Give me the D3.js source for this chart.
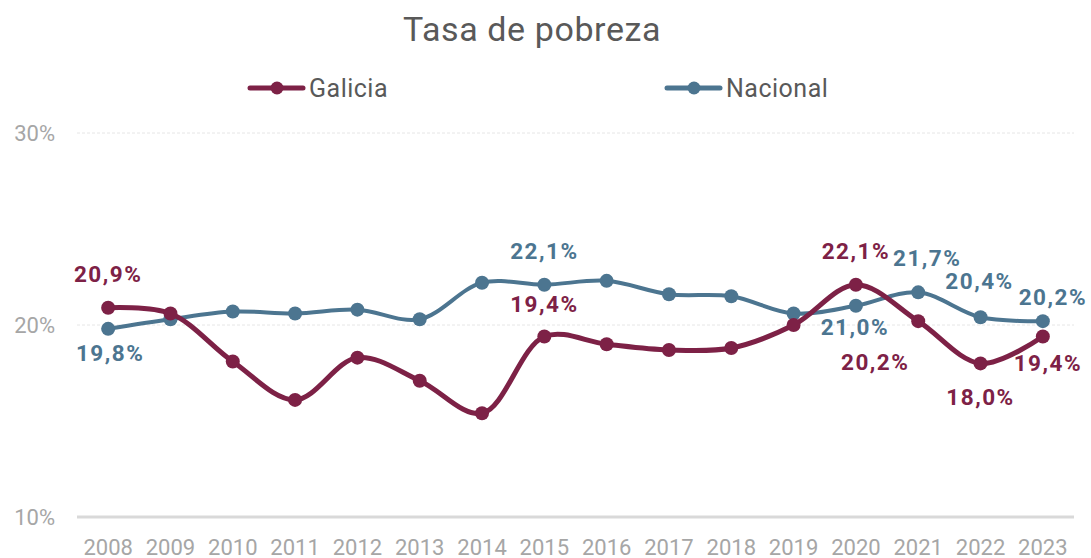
<!DOCTYPE html>
<html>
<head>
<meta charset="utf-8">
<script src="https://cdn.jsdelivr.net/npm/d3@7"></script>
<style>
  body { margin: 0; background: #fff; }
  svg { font-family: Roboto, "Noto Sans", sans-serif; }
</style>
</head>
<body>
<svg id="chart"></svg>
<script>
var width = 1091;
var height = 558;

// Data
var years = ["2008","2009","2010","2011","2012","2013","2014","2015",
             "2016","2017","2018","2019","2020","2021","2022","2023"];
var galicia = [20.9, 20.6, 18.1, 16.1, 18.3, 17.1, 15.4, 19.4,
               19.0, 18.7, 18.8, 20.0, 22.1, 20.2, 18.0, 19.4];
var nacional = [19.8, 20.3, 20.7, 20.6, 20.8, 20.3, 22.2, 22.1,
                22.3, 21.6, 21.5, 20.6, 21.0, 21.7, 20.4, 20.2];
var yTicks = [10, 20, 30];

// which points carry a label, and where it sits relative to the point
var galiciaLabels = [
  {i: 0, dx: 0, dy: -34},
  {i: 7, dx: 0, dy: -33},
  {i: 12, dx: 0, dy: -34},
  {i: 13, dx: -43, dy: 41},
  {i: 14, dx: 0, dy: 34},
  {i: 15, dx: 5, dy: 26}
];
var nacionalLabels = [
  {i: 0, dx: 2, dy: 24},
  {i: 7, dx: 0, dy: -34},
  {i: 12, dx: -1, dy: 21},
  {i: 13, dx: 9, dy: -34},
  {i: 14, dx: -1, dy: -36},
  {i: 15, dx: 10, dy: -24}
];

var galiciaColor = "#7d2146";
var nacionalColor = "#4c7590";

var svg = d3.select("#chart")
  .attr("width", width)
  .attr("height", height);

var x = d3.scalePoint()
  .domain(years)
  .range([77, 1074])
  .padding(0.5);

var y = d3.scaleLinear()
  .domain([10, 30])
  .range([517, 133]);

// title
svg.append("text")
  .attr("x", 532)
  .attr("y", 41)
  .attr("text-anchor", "middle")
  .attr("font-size", 34)
  .attr("letter-spacing", 0.6)
  .attr("fill", "#595959")
  .text("Tasa de pobreza");

// legend
var legend = [
  {name: "Galicia", color: galiciaColor, x: 250},
  {name: "Nacional", color: nacionalColor, x: 667}
];
legend.forEach(function(l) {
  var g = svg.append("g").attr("transform", "translate(" + l.x + ",88)");
  g.append("line").attr("x1", 0).attr("x2", 53).attr("y1", 0).attr("y2", 0)
    .attr("stroke", l.color).attr("stroke-width", 5).attr("stroke-linecap", "round");
  g.append("circle").attr("cx", 27).attr("cy", 0).attr("r", 6.5).attr("fill", l.color);
  g.append("text").attr("x", 59).attr("y", 9)
    .attr("font-size", 25).attr("letter-spacing", 0.5)
    .attr("fill", "#595959").text(l.name);
});

// gridlines
svg.selectAll(".grid")
  .data(yTicks)
  .enter().append("line")
  .attr("x1", 77).attr("x2", 1074)
  .attr("y1", function(d) { return y(d); })
  .attr("y2", function(d) { return y(d); })
  .attr("stroke", function(d) { return d === 10 ? "#d9d9d9" : "#e6e6e6"; })
  .attr("stroke-width", function(d) { return d === 10 ? 3 : 1; })
  .attr("stroke-dasharray", function(d) { return d === 10 ? null : "3,2"; });

// y labels
svg.selectAll(".ylab")
  .data(yTicks)
  .enter().append("text")
  .attr("x", 55)
  .attr("y", function(d) { return y(d) + 8; })
  .attr("text-anchor", "end")
  .attr("font-size", 22)
  .attr("fill", "#a6a6a6")
  .text(function(d) { return d + "%"; });

// x labels
svg.selectAll(".xlab")
  .data(years)
  .enter().append("text")
  .attr("x", function(d) { return x(d); })
  .attr("y", 555)
  .attr("text-anchor", "middle")
  .attr("font-size", 22)
  .attr("fill", "#a6a6a6")
  .text(function(d) { return d; });

var line = d3.line()
  .x(function(d, i) { return x(years[i]); })
  .y(function(d) { return y(d); })
  .curve(d3.curveCatmullRom.alpha(0.5));

function drawSeries(values, color, lw) {
  svg.append("path")
    .datum(values)
    .attr("d", line)
    .attr("fill", "none")
    .attr("stroke", color)
    .attr("stroke-width", lw)
    .attr("stroke-linecap", "round");

  svg.append("g").selectAll("circle")
    .data(values)
    .enter().append("circle")
    .attr("cx", function(d, i) { return x(years[i]); })
    .attr("cy", function(d) { return y(d); })
    .attr("r", 7)
    .attr("fill", color);
}

drawSeries(nacional, nacionalColor, 4);
drawSeries(galicia, galiciaColor, 5);

function fmt(v) { return v.toFixed(1).replace(".", ",") + "%"; }

function drawLabels(values, labels, color) {
  svg.append("g").selectAll("text")
    .data(labels)
    .enter().append("text")
    .attr("x", function(d) { return x(years[d.i]) + d.dx; })
    .attr("y", function(d) { return y(values[d.i]) + d.dy + 8; })
    .attr("text-anchor", "middle")
    .attr("font-size", 22.5)
    .attr("letter-spacing", 1.5)
    .attr("font-weight", "bold")
    .attr("fill", color)
    .text(function(d) { return fmt(values[d.i]); });
}

drawLabels(galicia, galiciaLabels, galiciaColor);
drawLabels(nacional, nacionalLabels, nacionalColor);
</script>
</body>
</html>
